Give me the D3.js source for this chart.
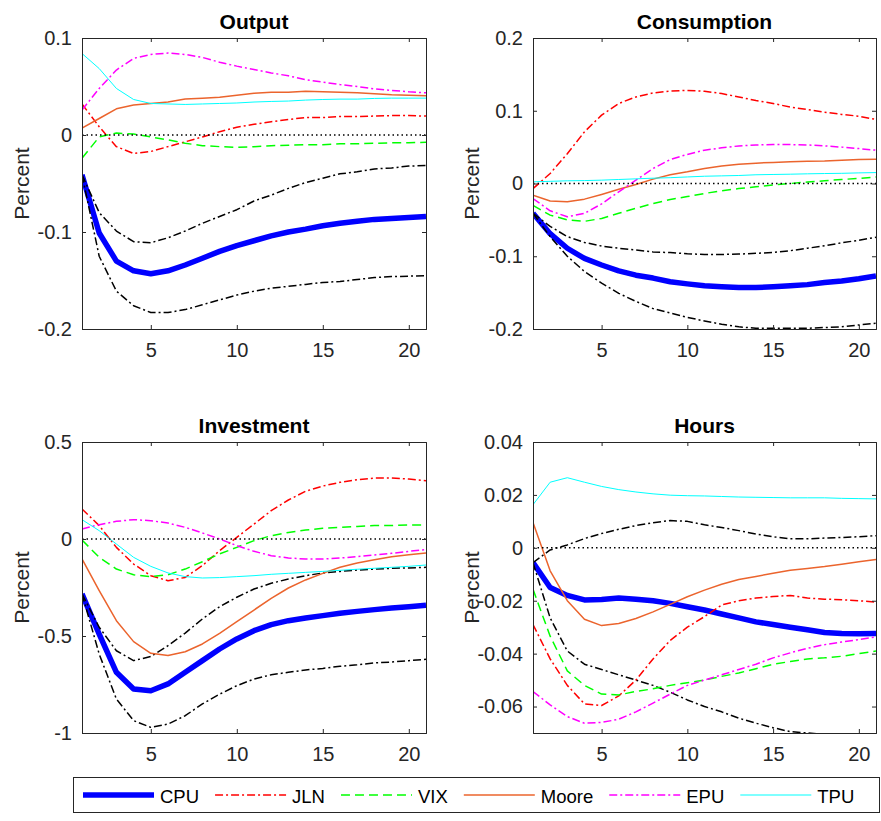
<!DOCTYPE html>
<html>
<head>
<meta charset="utf-8">
<script src="https://cdn.jsdelivr.net/npm/d3@7"></script>
<style>
  html, body { margin: 0; padding: 0; background: #fff; }
  svg { display: block; font-family: "Liberation Sans", Arial, Helvetica, sans-serif; }
</style>
</head>
<body>
<svg id="chart" width="881" height="821"></svg>
<script>
// ---------- DATA ----------
const horizons = d3.range(1, 22);
const seriesNames = ["CPU", "JLN", "VIX", "Moore", "EPU", "TPU"];
const panelTitles = ["Output", "Consumption", "Investment", "Hours"];

const yTicksOutput = [-0.2, -0.1, 0, 0.1];
const yTicksConsumption = [-0.2, -0.1, 0, 0.1, 0.2];
const yTicksInvestment = [-1, -0.5, 0, 0.5];
const yTicksHours = [-0.06, -0.04, -0.02, 0, 0.02, 0.04];
const xTicks = [5, 10, 15, 20];

// Output
const outCPU   = [-0.041,-0.101,-0.130,-0.140,-0.143,-0.140,-0.134,-0.127,-0.120,-0.114,-0.109,-0.104,-0.100,-0.097,-0.0935,-0.091,-0.089,-0.087,-0.086,-0.085,-0.084];
const outUpper = [-0.041,-0.080,-0.099,-0.110,-0.111,-0.106,-0.099,-0.091,-0.084,-0.077,-0.068,-0.062,-0.055,-0.049,-0.0445,-0.040,-0.038,-0.035,-0.034,-0.032,-0.0315];
const outLower = [-0.041,-0.125,-0.161,-0.176,-0.183,-0.183,-0.180,-0.175,-0.170,-0.165,-0.161,-0.158,-0.156,-0.154,-0.152,-0.151,-0.149,-0.147,-0.146,-0.1455,-0.145];
const outJLN   = [0.032,0.0085,-0.012,-0.019,-0.017,-0.012,-0.007,-0.002,0.0034,0.008,0.011,0.0137,0.016,0.018,0.018,0.019,0.019,0.0195,0.020,0.020,0.0195];
const outVIX   = [-0.024,-0.002,0.002,0.001,-0.002,-0.005,-0.0085,-0.011,-0.012,-0.0127,-0.012,-0.011,-0.0106,-0.010,-0.010,-0.009,-0.009,-0.0085,-0.008,-0.008,-0.0075];
const outMoore = [0.007,0.017,0.027,0.031,0.0325,0.034,0.037,0.038,0.039,0.041,0.043,0.044,0.044,0.045,0.0445,0.044,0.0435,0.0425,0.0415,0.041,0.0405];
const outEPU   = [0.0257,0.048,0.067,0.079,0.083,0.0845,0.083,0.080,0.075,0.071,0.0675,0.064,0.061,0.057,0.0545,0.052,0.050,0.0476,0.046,0.0445,0.0435];
const outTPU   = [0.084,0.0685,0.048,0.0366,0.0325,0.032,0.0315,0.032,0.0325,0.033,0.034,0.0346,0.035,0.036,0.0366,0.037,0.037,0.0377,0.038,0.038,0.038];

// Consumption
const conCPU   = [-0.041,-0.069,-0.089,-0.103,-0.112,-0.120,-0.126,-0.130,-0.135,-0.138,-0.1405,-0.142,-0.143,-0.143,-0.142,-0.1405,-0.139,-0.136,-0.134,-0.131,-0.127];
const conUpper = [-0.041,-0.059,-0.073,-0.081,-0.086,-0.089,-0.0915,-0.094,-0.095,-0.0966,-0.0975,-0.0975,-0.097,-0.096,-0.0947,-0.0924,-0.089,-0.0856,-0.0815,-0.078,-0.074];
const conLower = [-0.041,-0.073,-0.100,-0.121,-0.137,-0.151,-0.162,-0.172,-0.178,-0.184,-0.189,-0.1935,-0.197,-0.199,-0.199,-0.199,-0.199,-0.198,-0.197,-0.1945,-0.192];
const conJLN   = [-0.007,0.0137,0.041,0.071,0.094,0.110,0.119,0.1245,0.127,0.128,0.1268,0.1236,0.119,0.114,0.110,0.105,0.1016,0.098,0.095,0.0925,0.088];
const conVIX   = [-0.030,-0.0435,-0.050,-0.052,-0.048,-0.041,-0.034,-0.0275,-0.022,-0.018,-0.0137,-0.010,-0.007,-0.0046,-0.002,0,0.002,0.0037,0.0055,0.007,0.009];
const conMoore = [-0.016,-0.024,-0.025,-0.0215,-0.015,-0.008,-0.0014,0.006,0.012,0.016,0.0206,0.024,0.0265,0.028,0.029,0.030,0.0307,0.031,0.032,0.033,0.0334];
const conEPU   = [-0.0206,-0.0375,-0.0458,-0.041,-0.028,-0.0114,0.0046,0.0206,0.033,0.040,0.0458,0.049,0.0517,0.053,0.0535,0.0535,0.053,0.0517,0.050,0.048,0.0458];
const conTPU   = [0.0023,0.003,0.0037,0.004,0.0046,0.0055,0.0064,0.0073,0.008,0.009,0.010,0.0105,0.011,0.012,0.0124,0.0128,0.0133,0.0137,0.014,0.0146,0.015];

// Investment
const invCPU   = [-0.283,-0.490,-0.687,-0.773,-0.782,-0.747,-0.687,-0.627,-0.567,-0.515,-0.4725,-0.4416,-0.421,-0.407,-0.395,-0.383,-0.373,-0.364,-0.356,-0.349,-0.342];
const invUpper = [-0.283,-0.455,-0.576,-0.627,-0.606,-0.550,-0.485,-0.412,-0.349,-0.300,-0.258,-0.2285,-0.206,-0.189,-0.175,-0.167,-0.160,-0.155,-0.151,-0.149,-0.146];
const invLower = [-0.283,-0.593,-0.825,-0.936,-0.971,-0.954,-0.911,-0.850,-0.800,-0.756,-0.722,-0.700,-0.687,-0.675,-0.667,-0.656,-0.648,-0.639,-0.634,-0.627,-0.620];
const invJLN   = [0.155,0.069,-0.043,-0.129,-0.189,-0.215,-0.198,-0.137,-0.060,0.0086,0.077,0.146,0.201,0.246,0.273,0.292,0.306,0.314,0.314,0.309,0.300];
const invVIX   = [-0.005,-0.0945,-0.155,-0.184,-0.194,-0.184,-0.155,-0.117,-0.077,-0.043,-0.0086,0.017,0.034,0.046,0.055,0.060,0.065,0.069,0.070,0.072,0.072];
const invMoore = [-0.103,-0.266,-0.421,-0.529,-0.589,-0.601,-0.581,-0.541,-0.486,-0.426,-0.366,-0.306,-0.2526,-0.211,-0.177,-0.146,-0.124,-0.1065,-0.091,-0.081,-0.072];
const invEPU   = [0.0515,0.074,0.091,0.0997,0.0945,0.0825,0.060,0.031,0,-0.034,-0.0636,-0.086,-0.098,-0.103,-0.103,-0.098,-0.091,-0.0825,-0.074,-0.0636,-0.055];
const invTPU   = [0.0997,0.043,-0.026,-0.0945,-0.141,-0.175,-0.194,-0.201,-0.199,-0.194,-0.189,-0.182,-0.177,-0.172,-0.167,-0.1615,-0.156,-0.151,-0.146,-0.141,-0.134];

// Hours
const hrsCPU   = [-0.0056,-0.015,-0.018,-0.0197,-0.0195,-0.019,-0.0194,-0.020,-0.021,-0.0223,-0.0235,-0.025,-0.0265,-0.028,-0.029,-0.030,-0.031,-0.032,-0.0324,-0.0325,-0.0324];
const hrsUpper = [-0.0056,-0.0008,0.0011,0.0035,0.0054,0.007,0.0084,0.0095,0.0103,0.010,0.0087,0.0077,0.0065,0.0052,0.0042,0.0034,0.0034,0.0037,0.0039,0.0042,0.0046];
const hrsLower = [-0.0056,-0.0265,-0.039,-0.044,-0.046,-0.048,-0.050,-0.052,-0.0546,-0.0575,-0.060,-0.062,-0.0644,-0.0663,-0.068,-0.0695,-0.070,-0.0705,-0.0708,-0.0708,-0.0705];
const hrsJLN   = [-0.029,-0.042,-0.052,-0.059,-0.0596,-0.056,-0.050,-0.042,-0.035,-0.030,-0.026,-0.0216,-0.020,-0.019,-0.0184,-0.018,-0.019,-0.0194,-0.0196,-0.020,-0.0205];
const hrsVIX   = [-0.0157,-0.0334,-0.0465,-0.052,-0.0553,-0.0556,-0.0543,-0.0533,-0.052,-0.051,-0.050,-0.0486,-0.0473,-0.0457,-0.044,-0.043,-0.042,-0.0416,-0.041,-0.040,-0.039];
const hrsMoore = [0.0096,-0.0087,-0.020,-0.027,-0.0294,-0.0286,-0.0267,-0.0242,-0.0214,-0.0185,-0.016,-0.0138,-0.012,-0.0108,-0.0096,-0.0085,-0.0078,-0.0071,-0.0062,-0.0053,-0.0044];
const hrsEPU   = [-0.0543,-0.0594,-0.0638,-0.0663,-0.066,-0.0648,-0.062,-0.0587,-0.0553,-0.052,-0.050,-0.048,-0.046,-0.044,-0.0416,-0.0397,-0.038,-0.0366,-0.0356,-0.0347,-0.0337];
const hrsTPU   = [0.0163,0.0248,0.0265,0.0248,0.0232,0.022,0.0211,0.0204,0.0199,0.0197,0.0196,0.0194,0.0192,0.0191,0.019,0.0189,0.0189,0.0189,0.0187,0.0186,0.0185];

// ---------- STYLES ----------
const styles = {
  CPU:   { color: "#0000ff", width: 5.5, dash: null },
  band:  { color: "#000000", width: 1.5, dash: "8,3,2,3" },
  JLN:   { color: "#ff0000", width: 1.5, dash: "8,3,2,3" },
  VIX:   { color: "#00ff00", width: 1.5, dash: "9,5" },
  Moore: { color: "#eb642d", width: 1.5, dash: null },
  EPU:   { color: "#ff00ff", width: 1.5, dash: "8,3,2,3" },
  TPU:   { color: "#00ffff", width: 1,   dash: null }
};

const panels = [
  { title: panelTitles[0], box: [82, 38, 426, 329],  yDomain: [-0.2, 0.1],  yTicks: yTicksOutput,
    band: [outUpper, outLower], series: [outCPU, outJLN, outVIX, outMoore, outEPU, outTPU], labelX: 21 },
  { title: panelTitles[1], box: [533, 38, 876, 329], yDomain: [-0.2, 0.2],  yTicks: yTicksConsumption,
    band: [conUpper, conLower], series: [conCPU, conJLN, conVIX, conMoore, conEPU, conTPU], labelX: 471 },
  { title: panelTitles[2], box: [82, 442, 426, 733], yDomain: [-1, 0.5],    yTicks: yTicksInvestment,
    band: [invUpper, invLower], series: [invCPU, invJLN, invVIX, invMoore, invEPU, invTPU], labelX: 21 },
  { title: panelTitles[3], box: [533, 442, 876, 733], yDomain: [-0.07, 0.04], yTicks: yTicksHours,
    band: [hrsUpper, hrsLower], series: [hrsCPU, hrsJLN, hrsVIX, hrsMoore, hrsEPU, hrsTPU], labelX: 471 }
];

const svg = d3.select("#chart");
const axisColor = "#262626";

panels.forEach((p, pi) => {
  const [x0, y0, x1, y1] = p.box;
  const x = d3.scaleLinear().domain([1, 21]).range([x0, x1]);
  const y = d3.scaleLinear().domain(p.yDomain).range([y1, y0]);
  const g = svg.append("g");

  const clipId = "clip" + pi;
  g.append("clipPath").attr("id", clipId).append("rect")
    .attr("x", x0).attr("y", y0).attr("width", x1 - x0).attr("height", y1 - y0);

  const plot = g.append("g").attr("clip-path", `url(#${clipId})`);
  const line = d3.line().x((d, i) => x(horizons[i])).y(d => y(d));

  function draw(data, st) {
    const path = plot.append("path").datum(data)
      .attr("d", line).attr("fill", "none")
      .attr("stroke", st.color).attr("stroke-width", st.width)
      .attr("stroke-linejoin", "round");
    if (st.dash) path.attr("stroke-dasharray", st.dash);
  }

  draw(p.series[0], styles.CPU);
  draw(p.band[0], styles.band);
  draw(p.band[1], styles.band);
  draw(p.series[1], styles.JLN);
  draw(p.series[2], styles.VIX);
  draw(p.series[3], styles.Moore);
  draw(p.series[4], styles.EPU);
  draw(p.series[5], styles.TPU);

  plot.append("line")
    .attr("x1", x0).attr("x2", x1).attr("y1", y(0)).attr("y2", y(0))
    .attr("stroke", "#000").attr("stroke-width", 1.5).attr("stroke-dasharray", "1.5,3");

  const fmt = d => String(d);
  const axL = d3.axisLeft(y).tickValues(p.yTicks).tickSize(-4).tickPadding(10).tickFormat(fmt);
  const axR = d3.axisRight(y).tickValues(p.yTicks).tickSize(-4).tickFormat("");
  const axB = d3.axisBottom(x).tickValues(xTicks).tickSize(-4).tickPadding(14).tickFormat(fmt);
  const axT = d3.axisTop(x).tickValues(xTicks).tickSize(-4).tickFormat("");

  [[axL, `translate(${x0},0)`], [axR, `translate(${x1},0)`], [axB, `translate(0,${y1})`], [axT, `translate(0,${y0})`]]
    .forEach(([ax, tr]) => {
      const a = g.append("g").attr("transform", tr).call(ax);
      a.select(".domain").attr("stroke", axisColor).attr("stroke-width", 1);
      a.selectAll(".tick line").attr("stroke", axisColor);
      a.selectAll(".tick text").attr("fill", axisColor)
        .style("font-size", "20px").style("font-family", '"Liberation Sans", Arial, sans-serif');
    });

  g.append("text")
    .attr("x", (x0 + x1) / 2).attr("y", y0 - 9)
    .attr("text-anchor", "middle")
    .style("font-size", "21px").style("font-weight", "bold").attr("fill", "#000")
    .text(p.title);

  g.append("text")
    .attr("transform", `translate(${p.labelX + 8},${(y0 + y1) / 2}) rotate(-90)`)
    .attr("text-anchor", "middle")
    .style("font-size", "21px").attr("fill", axisColor)
    .text("Percent");
});

// ---------- LEGEND ----------
const legend = svg.append("g");
legend.append("rect")
  .attr("x", 73.5).attr("y", 777.5).attr("width", 806).attr("height", 35)
  .attr("fill", "#fff").attr("stroke", axisColor).attr("stroke-width", 1);

const legendStyle = [styles.CPU, styles.JLN, styles.VIX, styles.Moore, styles.EPU, styles.TPU];
let cursor = 83;
seriesNames.forEach((name, i) => {
  const st = legendStyle[i];
  const ln = legend.append("line")
    .attr("x1", cursor).attr("x2", cursor + 71).attr("y1", 795).attr("y2", 795)
    .attr("stroke", st.color).attr("stroke-width", st.width);
  if (st.dash) ln.attr("stroke-dasharray", st.dash);
  const t = legend.append("text")
    .attr("x", cursor + 77).attr("y", 803)
    .style("font-size", "18.5px").attr("fill", "#000")
    .text(name);
  const w = t.node().getComputedTextLength();
  cursor = cursor + 77 + w + 16;
});
</script>
</body>
</html>
